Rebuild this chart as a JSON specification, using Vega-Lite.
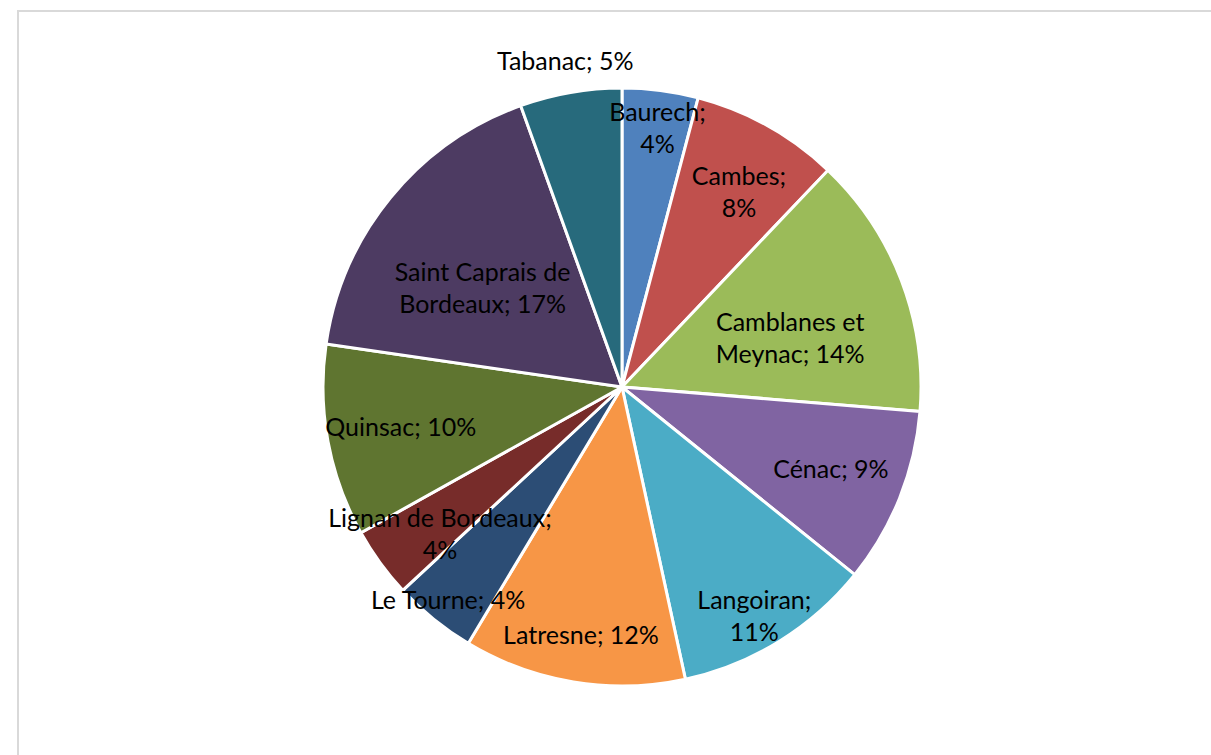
{
  "$schema": "https://vega.github.io/schema/vega-lite/v6.json",
  "width": 1208,
  "height": 752,
  "autosize": {"type": "none"},
  "padding": {"left": 18, "top": 11, "right": 0, "bottom": 0},
  "background": "white",
  "view": {"stroke": "#d9d9d9", "strokeWidth": 2, "fill": "white"},
  "data": {"values": [
    {"i": 1, "name": "Baurech", "value": 4.1, "label": "Baurech;\n4%"},
    {"i": 2, "name": "Cambes", "value": 8.0, "label": "Cambes;\n8%"},
    {"i": 3, "name": "Camblanes et Meynac", "value": 14.2, "label": "Camblanes et\nMeynac; 14%"},
    {"i": 4, "name": "Cénac", "value": 9.5, "label": "Cénac; 9%"},
    {"i": 5, "name": "Langoiran", "value": 10.8, "label": "Langoiran;\n11%"},
    {"i": 6, "name": "Latresne", "value": 12.0, "label": "Latresne; 12%"},
    {"i": 7, "name": "Le Tourne", "value": 4.5, "label": "Le Tourne; 4%"},
    {"i": 8, "name": "Lignan de Bordeaux", "value": 3.8, "label": "Lignan de Bordeaux;\n4%"},
    {"i": 9, "name": "Quinsac", "value": 10.4, "label": "Quinsac; 10%"},
    {"i": 10, "name": "Saint Caprais de Bordeaux", "value": 17.2, "label": "Saint Caprais de\nBordeaux; 17%"},
    {"i": 11, "name": "Tabanac", "value": 5.5, "label": "Tabanac; 5%"}
  ]},
  "encoding": {
    "theta": {"field": "value", "type": "quantitative", "stack": true},
    "order": {"field": "i", "type": "quantitative"}
  },
  "layer": [
    {
      "mark": {"type": "arc", "outerRadius": 299, "stroke": "white", "strokeWidth": 3},
      "encoding": {
        "color": {"field": "name", "type": "nominal", "legend": null,
          "scale": {"domain": ["Baurech", "Cambes", "Camblanes et Meynac", "Cénac", "Langoiran", "Latresne", "Le Tourne", "Lignan de Bordeaux", "Quinsac", "Saint Caprais de Bordeaux", "Tabanac"],
                    "range": ["#4F81BD", "#C0504D", "#9BBB59", "#8064A2", "#4BACC6", "#F79646", "#2C4D75", "#772C2A", "#5F7530", "#4D3B62", "#276A7C"]}}
      }
    },
    {
      "mark": {"type": "text", "radius": 180, "font": "Lato", "fontSize": 25, "lineBreak": "\n", "lineHeight": 32, "align": "center", "baseline": "middle", "color": "black"},
      "encoding": {"text": {"condition": {"test": "indexof(['Camblanes et Meynac','Saint Caprais de Bordeaux'], datum.name) >= 0", "field": "label"}, "value": ""}}
    },
    {
      "mark": {"type": "text", "radius": 225, "font": "Lato", "fontSize": 25, "lineBreak": "\n", "lineHeight": 32, "align": "center", "baseline": "middle", "color": "black"},
      "encoding": {"text": {"condition": {"test": "indexof(['Cénac','Lignan de Bordeaux','Quinsac'], datum.name) >= 0", "field": "label"}, "value": ""}}
    },
    {
      "mark": {"type": "text", "radius": 240, "font": "Lato", "fontSize": 25, "lineBreak": "\n", "lineHeight": 32, "align": "center", "baseline": "middle", "color": "black"},
      "encoding": {"text": {"condition": {"test": "datum.name == 'Cambes'", "field": "label"}, "value": ""}}
    },
    {
      "mark": {"type": "text", "radius": 252, "font": "Lato", "fontSize": 25, "lineBreak": "\n", "lineHeight": 32, "align": "center", "baseline": "middle", "color": "black"},
      "encoding": {"text": {"condition": {"test": "indexof(['Langoiran','Latresne'], datum.name) >= 0", "field": "label"}, "value": ""}}
    },
    {
      "mark": {"type": "text", "radius": 276, "font": "Lato", "fontSize": 25, "lineBreak": "\n", "lineHeight": 32, "align": "center", "baseline": "middle", "color": "black"},
      "encoding": {"text": {"condition": {"test": "indexof(['Baurech','Le Tourne'], datum.name) >= 0", "field": "label"}, "value": ""}}
    },
    {
      "mark": {"type": "text", "radius": 330, "font": "Lato", "fontSize": 25, "lineBreak": "\n", "lineHeight": 32, "align": "center", "baseline": "middle", "color": "black"},
      "encoding": {"text": {"condition": {"test": "datum.name == 'Tabanac'", "field": "label"}, "value": ""}}
    }
  ]
}
